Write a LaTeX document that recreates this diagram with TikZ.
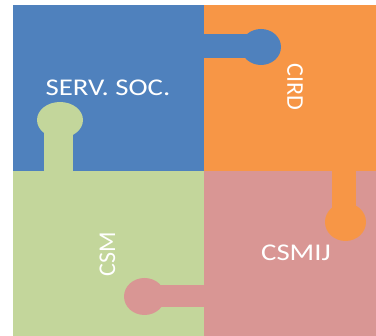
\documentclass[tikz,border=0pt]{standalone}
\usepackage{fontspec}
\setmainfont{Carlito}
\definecolor{pblue}{HTML}{4F81BD}
\definecolor{porange}{HTML}{F79646}
\definecolor{pgreen}{HTML}{C3D69B}
\definecolor{ppink}{HTML}{D99694}
\begin{document}
\begin{tikzpicture}[x=1pt,y=-1pt,
  lbl/.style={text=white,font=\fontsize{24}{28}\selectfont,inner sep=0pt},
  wide/.style={lbl,xscale=1.2,transform shape}]
\useasboundingbox (0,0) rectangle (376,336);
\fill[white] (0,0) rectangle (376,336);
% quadrants
\fill[pblue]   (13,5) rectangle (204,171);
\fill[porange] (204,5) rectangle (376,171);
\fill[pgreen]  (13,171) rectangle (204,336);
\fill[ppink]   (204,171) rectangle (376,336);
% knobs
\fill[pblue] (204,34) rectangle (252,58);
\fill[pblue] (261,47) ellipse [x radius=20, y radius=18];
\fill[pgreen] (44,130) rectangle (73,171);
\fill[pgreen] (60,120) ellipse [x radius=23, y radius=18];
\fill[porange] (332,171) rectangle (356,210);
\fill[porange] (345.5,222) ellipse [x radius=20.5, y radius=19];
\fill[ppink] (155,285) rectangle (204,307);
\fill[ppink] (144.5,296.5) ellipse [x radius=20.5, y radius=18.5];
% labels
\node[wide] (serv) at (108,88) {SERV. SOC.};
\node[lbl,rotate=-90] (cird) at (295,87) {CIRD};
\node[lbl,rotate=90] (csm) at (107.5,254) {CSM};
\node[wide] (csmij) at (296,253) {CSMIJ};
\end{tikzpicture}
\end{document}
